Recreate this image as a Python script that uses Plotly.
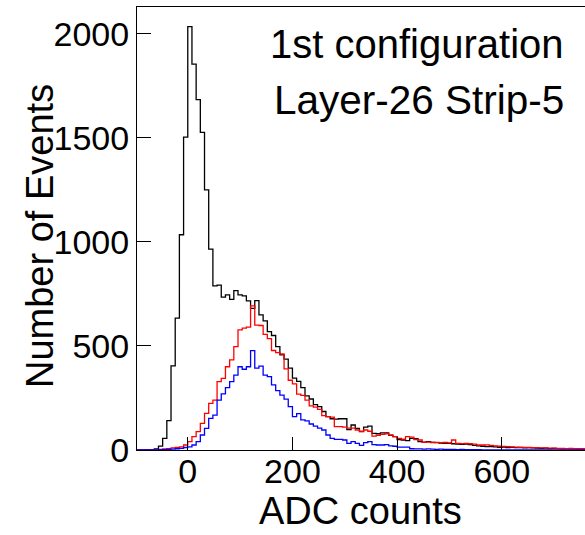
import plotly.graph_objects as go

# Histogram binning (ADC counts)
bin_start = -104
bin_width = 8

black_counts = [
    0, 0, 1, 1, 2, 5, 19, 56, 141, 404, 633, 1034, 1503, 2034, 1854, 1683, 1526, 1250,
    965, 788, 792, 734, 745, 724, 766, 745, 740, 716, 680, 718, 649, 620, 569, 550,
    497, 457, 437, 393, 345, 330, 300, 260, 245, 218, 208, 185, 160, 150, 148, 150,
    150, 98, 120, 104, 88, 110, 115, 80, 78, 82, 82, 70, 64, 50, 48, 45, 56, 55,
    40, 38, 40, 37, 35, 33, 32, 32, 30, 28, 27, 28, 26, 22, 20, 18, 16, 16, 15, 13,
    14, 12, 13, 11, 12, 10, 11, 10, 9, 8, 9, 7, 8, 7, 6, 7, 6, 5, 6, 5, 5,
]

red_counts = [
    0, 0, 1, 1, 1, 2, 3, 5, 7, 10, 12, 15, 24, 40, 64, 88, 128, 176,
    224, 240, 328, 344, 400, 433, 497, 577, 585, 590, 692, 600, 598, 555, 535, 478,
    468, 462, 390, 335, 318, 268, 262, 240, 212, 206, 195, 165, 160, 158, 112, 112,
    110, 105, 105, 96, 90, 96, 90, 67, 70, 75, 78, 72, 64, 56, 52, 64, 62, 50,
    48, 37, 38, 36, 37, 35, 36, 34, 48, 32, 31, 32, 30, 28, 25, 24, 25, 22, 20, 18,
    17, 16, 15, 14, 13, 13, 12, 11, 11, 10, 10, 9, 9, 8, 8, 7, 8, 7, 6, 6, 6,
]

blue_counts = [
    0, 0, 0, 1, 1, 1, 2, 2, 3, 4, 6, 8, 12, 15, 24, 40, 72, 104,
    152, 168, 240, 270, 300, 328, 360, 400, 388, 400, 477, 393, 403, 360, 352, 313,
    285, 264, 244, 208, 160, 175, 145, 140, 125, 115, 105, 96, 72, 56, 51, 51,
    48, 32, 40, 32, 22, 35, 40, 26, 24, 24, 26, 20, 18, 14, 14, 14, 6, 5,
    5, 4, 5, 4, 3, 4, 3, 3, 3, 2, 3, 2, 2, 2, 2, 1, 1, 1, 1, 1,
    1, 1, 1, 1, 1, 1, 1, 1, 1, 1, 1, 1, 1, 1, 1, 1, 1, 1, 1,
]

x_ticks = [0, 200, 400, 600]
y_ticks = [0, 500, 1000, 1500, 2000]

n_bins = len(black_counts)
edges = [bin_start + bin_width * i for i in range(n_bins + 1)]

FONT = "Liberation Sans, Arial, Helvetica, sans-serif"

# plot-area geometry in pixels (used to place texts in paper coordinates)
L, R, T, B = 137, 585, 7, 450
W, H = R - L, B - T

fig = go.Figure()
for counts, color in [(black_counts, "#000000"), (red_counts, "#ff0000"), (blue_counts, "#0000ff")]:
    ys = list(counts[:len(edges) - 1])
    ys = ys + [0] * (len(edges) - 1 - len(ys))
    fig.add_trace(go.Scatter(
        x=edges, y=ys + [ys[-1]],
        mode="lines", line=dict(color=color, width=1.3, shape="hv"),
        showlegend=False, hoverinfo="skip",
    ))


def px(xp, yp):
    return (xp - L) / W, (B - yp) / H


ax_title_x = px(360, 534)
ay_title = px(40, 236)
t1 = px(268, 44)
t2 = px(272, 100)

fig.update_layout(
    width=585, height=535,
    margin=dict(l=L, r=585 - R, t=T, b=535 - B),
    paper_bgcolor="white", plot_bgcolor="white",
    font=dict(family=FONT, color="black"),
    xaxis=dict(
        range=[-97, 759], tickvals=x_ticks, ticktext=[str(v) for v in x_ticks],
        ticks="inside", ticklen=13, tickwidth=1, tickcolor="black",
        showline=True, linecolor="black", linewidth=1, mirror=True,
        showgrid=False, zeroline=False, automargin=False,
        tickfont=dict(size=34, family=FONT), ticklabelstandoff=-9,
    ),
    yaxis=dict(
        range=[0, 2128], tickvals=y_ticks, ticktext=[str(v) for v in y_ticks],
        ticks="inside", ticklen=14, tickwidth=1, tickcolor="black",
        showline=True, linecolor="black", linewidth=1,
        showgrid=False, zeroline=False, automargin=False,
        tickfont=dict(size=34, family=FONT),
    ),
    annotations=[
        dict(text="ADC counts", xref="paper", yref="paper",
             x=ax_title_x[0], y=ax_title_x[1], xanchor="center", yanchor="bottom",
             showarrow=False, font=dict(size=38, family=FONT, color="black")),
        dict(text="Number of Events", xref="paper", yref="paper", textangle=-90,
             x=ay_title[0], y=ay_title[1], xanchor="center", yanchor="middle",
             showarrow=False, font=dict(size=38, family=FONT, color="black")),
        dict(text="1st configuration", xref="paper", yref="paper",
             x=t1[0], y=t1[1], xanchor="left", yanchor="middle",
             showarrow=False, font=dict(size=40, family=FONT, color="black")),
        dict(text="Layer-26 Strip-5", xref="paper", yref="paper",
             x=t2[0], y=t2[1], xanchor="left", yanchor="middle",
             showarrow=False, font=dict(size=40.5, family=FONT, color="black")),
    ],
)

fig.write_html(
    "out.html",
    config={"displayModeBar": False},
    post_script="document.body.style.margin='0';document.body.style.overflow='hidden';",
)
